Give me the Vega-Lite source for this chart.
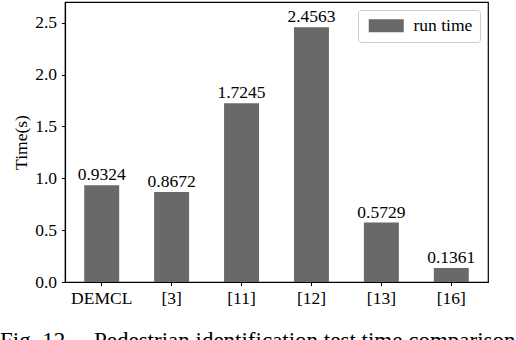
{
  "$schema": "https://vega.github.io/schema/vega-lite/v6.json",
  "width": 423,
  "height": 280,
  "autosize": {"type": "none"},
  "padding": {"left": 65, "top": 2, "right": 28, "bottom": 58},
  "background": "white",
  "config": {
    "font": "Times New Roman",
    "view": {"stroke": "black", "strokeWidth": 1.2},
    "axis": {"labelFont": "Times New Roman", "titleFont": "Times New Roman"},
    "legend": {"labelFont": "Times New Roman"},
    "text": {"font": "Times New Roman"}
  },
  "title": {
    "text": "Fig. 12.\u2003Pedestrian identification test time comparisons",
    "orient": "bottom",
    "anchor": "start",
    "frame": "group",
    "dx": -65,
    "offset": 41,
    "font": "Times New Roman",
    "fontSize": 23,
    "fontWeight": "normal",
    "color": "black",
    "baseline": "alphabetic"
  },
  "data": {
    "values": [
      {"model": "DEMCL", "time": 0.9324},
      {"model": "[3]", "time": 0.8672},
      {"model": "[11]", "time": 1.7245},
      {"model": "[12]", "time": 2.4563},
      {"model": "[13]", "time": 0.5729},
      {"model": "[16]", "time": 0.1361}
    ]
  },
  "encoding": {
    "x": {
      "field": "model",
      "type": "nominal",
      "sort": null,
      "scale": {"paddingInner": 0.5, "paddingOuter": 0.275},
      "axis": {
        "title": null,
        "labelAngle": 0,
        "labelFont": "Times New Roman",
        "labelFontSize": 17.5,
        "labelColor": "black",
        "labelPadding": 3.5,
        "tickColor": "black",
        "tickSize": 3.5,
        "domainColor": "black",
        "domainWidth": 1.2
      }
    },
    "y": {
      "field": "time",
      "type": "quantitative",
      "scale": {"domain": [0, 2.7], "nice": false},
      "axis": {
        "title": "Time(s)",
        "titleFont": "Times New Roman",
        "titleFontSize": 17.5,
        "titleFontWeight": "normal",
        "titleColor": "black",
        "titlePadding": 4,
        "values": [0, 0.5, 1, 1.5, 2, 2.5],
        "format": ".1f",
        "grid": false,
        "labelFont": "Times New Roman",
        "labelFontSize": 17.5,
        "labelColor": "black",
        "labelPadding": 5,
        "tickColor": "black",
        "tickSize": 3.5,
        "domainColor": "black",
        "domainWidth": 1.2
      }
    }
  },
  "layer": [
    {
      "mark": {"type": "bar", "color": "#696969"},
      "encoding": {
        "color": {
          "datum": "run time",
          "type": "nominal",
          "scale": {"range": ["#696969"]},
          "legend": {
            "title": null,
            "orient": "none",
            "legendX": 293,
            "legendY": 8,
            "symbolType": "M-1,-1.3H6V1.3H-1Z",
            "symbolSize": 100,
            "symbolStrokeWidth": 0,
            "labelFont": "Times New Roman",
            "labelFontSize": 17.5,
            "labelColor": "black",
            "labelOffset": 31,
            "padding": 7,
            "strokeColor": "#cccccc",
            "cornerRadius": 3,
            "fillColor": "white"
          }
        }
      }
    },
    {
      "mark": {"type": "text", "baseline": "bottom", "dy": -1, "font": "Times New Roman", "fontSize": 17.5, "color": "black"},
      "encoding": {
        "text": {"field": "time", "type": "quantitative", "format": ".4f"}
      }
    }
  ]
}
